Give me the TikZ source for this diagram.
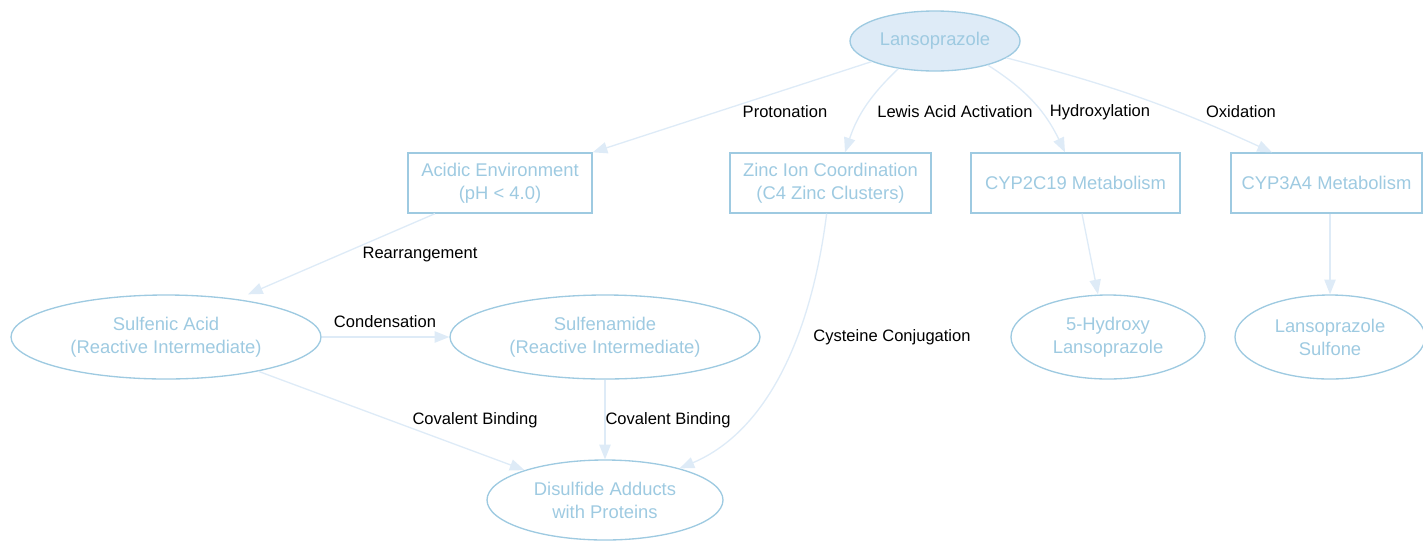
\documentclass[tikz,border=0pt]{standalone}
\usepackage{fontspec}
\setmainfont{Liberation Sans}
\usetikzlibrary{shapes.geometric,arrows.meta}
\definecolor{nodeline}{HTML}{9ECAE1}
\definecolor{nodetext}{HTML}{9ECAE1}
\definecolor{nodefill}{HTML}{DEEBF7}
\definecolor{edgecol}{HTML}{DEEBF7}
\tikzset{
  ell/.style={ellipse, draw=nodeline, line width=1pt, text=nodetext, inner sep=0pt, align=center,
    font=\fontsize{13.8}{17.3}\selectfont},
  boxnode/.style={rectangle, draw=nodeline, line width=1pt, text=nodetext, inner sep=0pt, align=center,
    minimum height=45pt, font=\fontsize{13.8}{17.3}\selectfont},
  edgelbl/.style={text=black, inner sep=1pt, font=\fontsize{12.4}{14}\selectfont},
  conn/.style={draw=edgecol, line width=1pt, -{Triangle[length=11pt,width=8.5pt,fill=edgecol]}}
}
\begin{document}
\begin{tikzpicture}[x=0.75pt,y=-0.75pt]
\useasboundingbox (0,0) rectangle (1423,540);
% nodes
\node[ell, fill=nodefill, minimum width=127.5pt, minimum height=45pt] (lans) at (935,41) {Lansoprazole};
\node[boxnode, minimum width=138pt] (acid) at (500,183) {Acidic Environment\\(pH < 4.0)};
\node[boxnode, minimum width=150.75pt] (zinc) at (830.5,183) {Zinc Ion Coordination\\(C4 Zinc Clusters)};
\node[boxnode, minimum width=156.75pt] (cyp19) at (1075.5,183) {CYP2C19 Metabolism};
\node[boxnode, minimum width=143.25pt] (cyp34) at (1326.5,183) {CYP3A4 Metabolism};
\node[ell, minimum width=232.5pt, minimum height=63pt] (sulfenic) at (166,337) {Sulfenic Acid\\(Reactive Intermediate)};
\node[ell, minimum width=232.5pt, minimum height=63pt] (sulfenamide) at (605,337) {Sulfenamide\\(Reactive Intermediate)};
\node[ell, minimum width=145.5pt, minimum height=63pt] (hydroxy) at (1108,337) {5-Hydroxy\\Lansoprazole};
\node[ell, minimum width=142.5pt, minimum height=63pt] (sulfone) at (1330,337) {Lansoprazole\\Sulfone};
\node[ell, minimum width=177pt, minimum height=60pt] (dis) at (605,500) {Disulfide Adducts\\with Proteins};
% edges
\draw[conn] (lans) -- (acid.north east);
\draw[conn] (lans) to[bend right=14] (zinc.north -| 845,0);
\draw[conn] (lans) to[bend left=16] (cyp19.north -| 1065,0);
\draw[conn] (lans) to[bend left=5] (cyp34.north -| 1272,0);
\draw[conn] (acid.south -| 435,0) -- (sulfenic.north -| 248,0);
\draw[conn] (sulfenic) -- (sulfenamide);
\draw[conn] (sulfenic) -- (dis);
\draw[conn] (sulfenamide) -- (dis);
\draw[conn] (zinc) .. controls (812,330) and (770,430) .. (dis);
\draw[conn] (cyp19.south -| 1082,0) -- (hydroxy.north -| 1098,0);
\draw[conn] (cyp34.south -| 1330,0) -- (sulfone);
% edge labels
\node[edgelbl] (l1) at (785,112) {Protonation};
\node[edgelbl] (l2) at (955,112) {Lewis Acid Activation};
\node[edgelbl] (l3) at (1100,112) {Hydroxylation};
\node[edgelbl] (l4) at (1241,112) {Oxidation};
\node[edgelbl] (l5) at (420,255) {Rearrangement};
\node[edgelbl] (l6) at (385,322) {Condensation};
\node[edgelbl] (l7) at (475,420) {Covalent Binding};
\node[edgelbl] (l8) at (668,420) {Covalent Binding};
\node[edgelbl] (l9) at (892,337) {Cysteine Conjugation};
\end{tikzpicture}
\end{document}
